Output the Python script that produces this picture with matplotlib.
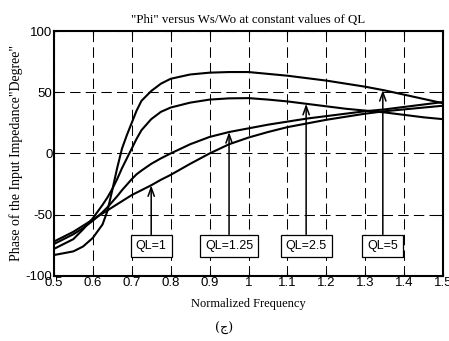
import numpy as np
import matplotlib
matplotlib.use("Agg")
import matplotlib.pyplot as plt

# ---- data ----
freq = [0.5, 0.55, 0.575, 0.6, 0.625, 0.6375, 0.65, 0.6625, 0.675, 0.6875, 0.7,
        0.7125, 0.725, 0.75, 0.775, 0.8, 0.85, 0.9, 0.95, 1.0, 1.05, 1.1, 1.15,
        1.2, 1.25, 1.3, 1.35, 1.4, 1.45, 1.5]
phi_ql1 = [-72, -64, -59, -54, -49, -46.5, -44, -41.5, -39, -36.5, -34,
           -32, -30, -26, -21.5, -17.5, -8.5, 0, 7.5, 13, 17.5, 21.5, 24.5,
           27.5, 30, 32.5, 34.5, 36, 37.5, 39]
phi_ql125 = [-74, -66, -61, -55, -48, -44, -39.5, -35, -30, -25.5, -21,
             -17, -14, -8.5, -4, 0, 7.5, 13.5, 17.5, 20.5, 23.5, 26, 28.5,
             30.5, 32.5, 34.5, 36, 38, 40, 42]
phi_ql25 = [-78, -70, -62, -53, -42, -36, -29, -21, -12, -4, 4,
            12, 19, 28, 34, 37.5, 41.5, 44, 45, 45.2, 44, 42.5, 40.5,
            38.5, 36.5, 35, 33.5, 31.5, 29.5, 28]
phi_ql5 = [-83, -80, -76, -69, -58, -47, -30, -12, 4, 15, 25,
           35, 43, 51, 57, 61, 64.5, 66, 66.5, 66.5, 65, 63.5, 61.5,
           59.5, 57, 54.5, 51.5, 48, 44.5, 41]

labels = ["QL=1", "QL=1.25", "QL=2.5", "QL=5"]
arrow_x = [0.75, 0.95, 1.148, 1.345]

xticks = [0.5, 0.6, 0.7, 0.8, 0.9, 1.0, 1.1, 1.2, 1.3, 1.4, 1.5]
xticklabels = ["0.5", "0.6", "0.7", "0.8", "0.9", "1", "1.1", "1.2", "1.3", "1.4", "1.5"]
yticks = [-100, -50, 0, 50, 100]
yticklabels = ["-100", "-50", "0", "50", "100"]

fig = plt.figure(figsize=(4.49, 3.41), dpi=100)
ax = fig.add_axes([0.120, 0.191, 0.867, 0.718])

series = [phi_ql1, phi_ql125, phi_ql25, phi_ql5]
for s in series:
    ax.plot(freq, s, color="black", lw=1.5, solid_joinstyle="round",
            solid_capstyle="round", zorder=3)

ax.set_xlim(0.5, 1.5)
ax.set_ylim(-100, 100)
ax.set_xticks(xticks)
ax.set_xticklabels(xticklabels, family="Liberation Sans", fontsize=9.5)
ax.set_yticks(yticks)
ax.set_yticklabels(yticklabels, family="Liberation Sans", fontsize=9.5)
ax.tick_params(direction="in", length=3, width=0.8, pad=1.0, top=True, right=True)
ax.grid(True, color="black", linestyle=(0, (10, 5)), lw=0.75)
for sp in ax.spines.values():
    sp.set_linewidth(1.5)

# annotations with boxes and arrows
for lab, xa, s in zip(labels, arrow_x, series):
    ytip = float(np.interp(xa, freq, s))
    ax.annotate(lab, xy=(xa, ytip), xytext=(xa, -75.5),
                ha="center", va="center", family="Liberation Sans", fontsize=9,
                bbox=dict(boxstyle="square,pad=0.4", fc="white", ec="black", lw=0.9),
                arrowprops=dict(arrowstyle="->,head_length=0.7,head_width=0.25",
                                color="black", lw=1.1, shrinkA=0, shrinkB=0),
                zorder=5)

ax.set_title('"Phi" versus Ws/Wo at constant values of QL',
             family="Liberation Serif", fontsize=9.3, pad=6)
ax.set_xlabel("Normalized Frequency", family="Liberation Serif", fontsize=9, labelpad=6)
ax.set_ylabel('Phase of the Input Impedance"Degree"', family="Liberation Serif",
              fontsize=10, labelpad=2)

fig.text(0.50, 0.038, "(ج)", family=["DejaVu Serif", "DejaVu Sans"], fontsize=9,
         ha="center", va="center")

fig.savefig("out.png", dpi=100)
